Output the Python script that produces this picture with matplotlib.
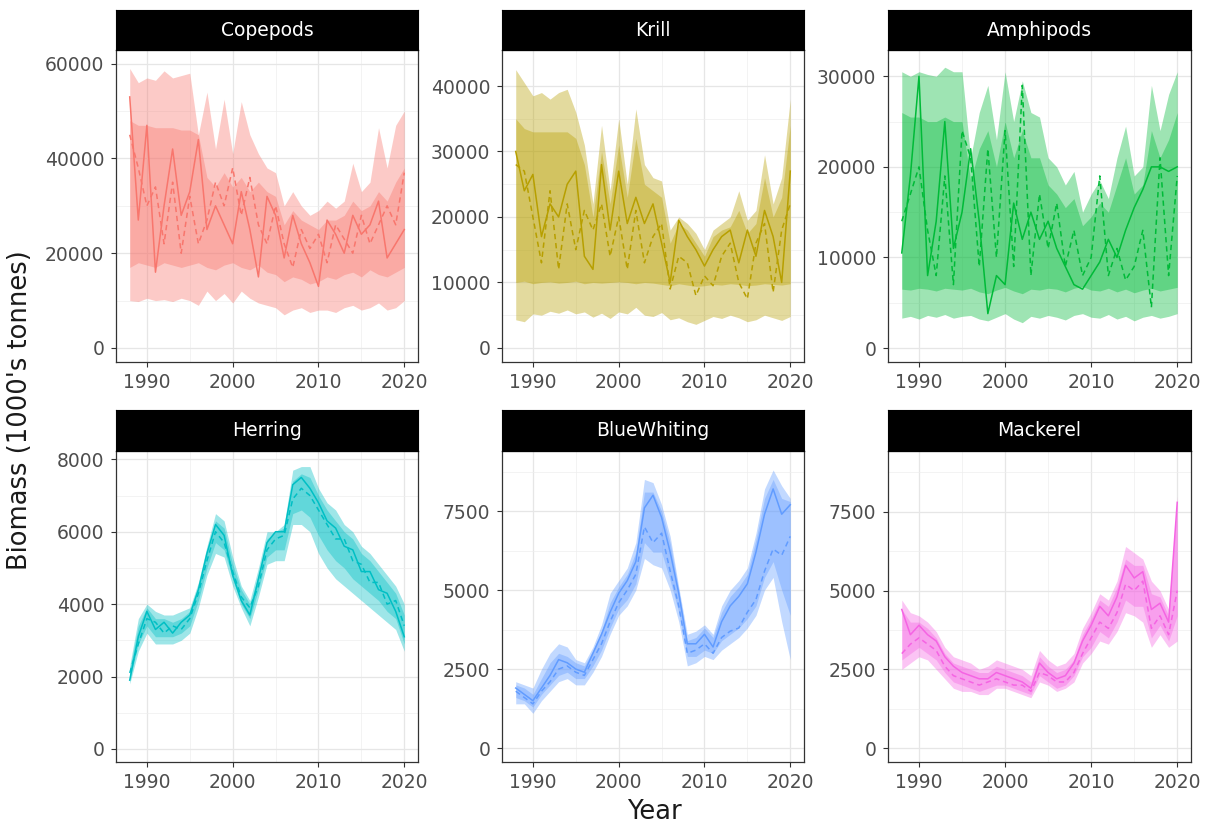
import matplotlib
matplotlib.use("Agg")
import matplotlib.pyplot as plt
from matplotlib.ticker import FixedLocator

plt.rcParams['font.family'] = ['DejaVu Sans']

years = list(range(1988, 2021))
species = ["Copepods", "Krill", "Amphipods", "Herring", "BlueWhiting", "Mackerel"]
colors = ["#F8766D", "#B79F00", "#00BA38", "#00BFC4", "#619CFF", "#F564E3"]

# ---- Copepods ----
copepods_solid = [53000, 27000, 47000, 16000, 30000, 42000, 28000, 33000, 44000, 25000, 30000,
                  26000, 22000, 33000, 25000, 15000, 32000, 28000, 19000, 28000, 22000, 18000,
                  13000, 27000, 24000, 20000, 28000, 24000, 26000, 31000, 19000, 22000, 25000]
copepods_dashed = [45000, 38000, 30000, 34000, 22000, 35000, 20000, 32000, 22000, 27000, 35000,
                   30000, 38000, 28000, 36000, 26000, 22000, 30000, 22000, 17000, 25000, 21000,
                   24000, 18000, 26000, 23000, 20000, 28000, 22000, 26000, 30000, 26000, 37000]
copepods_outer_lo = [10000, 9800, 10500, 10000, 10200, 9800, 10500, 10000, 9000, 12000, 10000,
                     11500, 9500, 12000, 10500, 9500, 9000, 8500, 7000, 8000, 8500, 7500,
                     8000, 8000, 7500, 8500, 9000, 8000, 8500, 9500, 8000, 8500, 10000]
copepods_outer_hi = [59000, 56000, 57000, 56500, 58500, 57000, 57500, 58000, 45000, 54000, 42000,
                     52500, 41000, 52000, 45000, 41000, 38000, 37000, 30000, 33000, 30000, 28000,
                     29000, 31000, 29500, 31000, 39000, 33000, 35000, 46500, 38000, 47000, 50000]
copepods_inner_lo = [17000, 18000, 17500, 17000, 18000, 17500, 17000, 17500, 18000, 17000, 16500,
                     17500, 18000, 17000, 16500, 17500, 16000, 15500, 14000, 15000, 14500, 13500,
                     14000, 15000, 14500, 15500, 16000, 15000, 16500, 15500, 15000, 16000, 17000]
copepods_inner_hi = [48000, 47000, 47000, 46500, 46500, 46500, 46000, 46000, 45000, 36000, 34000,
                     37000, 34000, 36000, 33000, 35000, 33000, 32000, 26000, 29000, 27000, 26000,
                     25000, 27000, 27000, 28000, 31000, 29000, 30000, 33000, 31000, 35000, 38000]

# ---- Krill ----
krill_solid = [30000, 24000, 26500, 17000, 22000, 20000, 25000, 27000, 14000, 12000, 28000,
               18000, 27000, 19000, 23000, 19000, 22000, 16000, 10000, 19500, 17000, 15000,
               12500, 15000, 17000, 18000, 13000, 18000, 14000, 21000, 17000, 10000, 27000]
krill_dashed = [28000, 27000, 20000, 13000, 24000, 12000, 22000, 15000, 21000, 18000, 22000,
                14000, 20000, 12000, 21000, 13000, 17000, 19000, 9000, 14000, 13000, 8000,
                11000, 9500, 14000, 16000, 10000, 7500, 16000, 19000, 8500, 18000, 22000]
krill_outer_lo = [4300, 4000, 5200, 5000, 5600, 5300, 5800, 5200, 5500, 4700, 5300,
                  4500, 5500, 5200, 6200, 5000, 4800, 5400, 4300, 4600, 4000, 3600,
                  4200, 4800, 4500, 5000, 4600, 4000, 4300, 5000, 4600, 4200, 4800]
krill_outer_hi = [42500, 40500, 38500, 39000, 38000, 39000, 39500, 36000, 31000, 22000, 34000,
                  24000, 35000, 25000, 36500, 28000, 26000, 25500, 18000, 20000, 19000, 17500,
                  15000, 18000, 19000, 20000, 24000, 19500, 21000, 29500, 22000, 26000, 38000]
krill_inner_lo = [10000, 10200, 9800, 10000, 10100, 9900, 10000, 10200, 9800, 10000, 9900,
                  10000, 10100, 10000, 9800, 10000, 9900, 9700, 9500, 9800, 9600, 9400,
                  9500, 9700, 9600, 9800, 9700, 9500, 9600, 9800, 9700, 9600, 9800]
krill_inner_hi = [35000, 33500, 33000, 33000, 33000, 33000, 33000, 32000, 28000, 20000, 30000,
                  22000, 31000, 23000, 32000, 25000, 24000, 23000, 16000, 19000, 18000, 16000,
                  14000, 17000, 18000, 18500, 21000, 17500, 19000, 26000, 20000, 23000, 34000]

# ---- Amphipods ----
amphipods_solid = [10500, 19000, 30000, 8000, 14000, 25000, 11000, 15000, 22000, 14000, 3800,
                   8000, 7000, 16000, 12000, 15000, 12000, 14000, 11000, 9000, 7000, 6500,
                   8000, 9500, 12000, 10000, 13000, 15500, 17500, 20000, 20000, 19500, 20000]
amphipods_dashed = [14000, 17000, 20000, 13000, 8000, 19000, 7000, 24000, 21000, 9000, 22000,
                    10000, 24000, 9000, 29000, 8000, 17000, 11000, 16000, 9000, 13000, 8000,
                    10000, 19000, 8000, 11000, 7500, 9000, 13000, 4500, 21000, 8000, 19000]
amphipods_outer_lo = [3300, 3500, 3200, 3600, 3400, 3700, 3300, 3500, 3600, 3200, 3000,
                      3400, 3800, 3200, 2800, 3500, 3300, 3600, 3400, 3100, 3600, 3800,
                      3400, 3300, 3700, 3200, 3500, 3000, 3400, 3600, 3300, 3500, 3800]
amphipods_outer_hi = [30500, 30000, 30500, 30200, 30000, 31000, 30500, 30500, 21000, 26000, 29000,
                      23000, 30500, 25000, 29500, 26000, 25500, 21000, 20000, 18000, 19500, 15000,
                      17000, 18500, 16500, 21000, 24500, 19000, 20000, 29000, 24000, 28000, 30500]
amphipods_inner_lo = [6500, 6400, 6600, 6500, 6300, 6600, 6500, 6400, 6600, 6200, 6000,
                      6400, 6700, 6300, 6000, 6500, 6400, 6600, 6500, 6200, 6600, 6800,
                      6400, 6300, 6600, 6200, 6500, 6100, 6400, 6600, 6300, 6500, 6700]
amphipods_inner_hi = [26000, 25500, 25500, 25000, 25000, 25500, 25000, 25000, 18500, 22000, 24000,
                      20000, 25000, 21000, 24000, 21000, 21000, 18000, 17000, 15500, 16500, 13500,
                      14500, 16000, 15000, 18000, 21000, 17000, 18000, 24000, 21000, 23000, 26000]

# ---- Herring ----
herring_solid = [1900, 3100, 3800, 3300, 3500, 3200, 3500, 3700, 4400, 5400, 6200,
                 5900, 4800, 4100, 3700, 4700, 5700, 6000, 6000, 7300, 7500, 7200,
                 6800, 6300, 6100, 5600, 5500, 4900, 4900, 4400, 4300, 3800, 3100]
herring_dashed = [2100, 2900, 3600, 3500, 3200, 3400, 3300, 3600, 4300, 5200, 6000,
                  5700, 4900, 4200, 3900, 4500, 5500, 5800, 5900, 6900, 7200, 7000,
                  6600, 6200, 5800, 5800, 5200, 5100, 4600, 4600, 4000, 4100, 3400]
herring_outer_lo = [1800, 2700, 3200, 2900, 2900, 2900, 3000, 3200, 3900, 4800, 5400,
                    5300, 4500, 3900, 3400, 4200, 5100, 5200, 5200, 6200, 6200, 6000,
                    5400, 5000, 4700, 4500, 4300, 4100, 3900, 3700, 3500, 3300, 2700]
herring_outer_hi = [2300, 3600, 4000, 3800, 3700, 3700, 3800, 3900, 4600, 5600, 6500,
                    6300, 5300, 4500, 4100, 5000, 6000, 6000, 6200, 7700, 7800, 7800,
                    7200, 6800, 6600, 6200, 6000, 5600, 5400, 5100, 4800, 4500, 4000]
herring_inner_lo = [1900, 2900, 3400, 3100, 3100, 3100, 3200, 3400, 4100, 5000, 5700,
                    5500, 4700, 4000, 3600, 4400, 5300, 5500, 5500, 6500, 6600, 6400,
                    5900, 5500, 5200, 5000, 4700, 4500, 4300, 4100, 3800, 3600, 2900]
herring_inner_hi = [2200, 3400, 3900, 3600, 3600, 3500, 3600, 3800, 4500, 5500, 6300,
                    6100, 5100, 4400, 4000, 4800, 5800, 6000, 6100, 7400, 7600, 7500,
                    7000, 6600, 6300, 6000, 5800, 5400, 5200, 4900, 4600, 4300, 3700]

# ---- Blue whiting ----
bluewhiting_solid = [1900, 1700, 1500, 1900, 2300, 2800, 2700, 2500, 2400, 3000, 3600,
                     4300, 4900, 5300, 5900, 7600, 8000, 7300, 6200, 4900, 3300, 3300,
                     3600, 3200, 4000, 4500, 4800, 5200, 6200, 7400, 8200, 7400, 7700]
bluewhiting_dashed = [1800, 1600, 1400, 1800, 2100, 2500, 2600, 2400, 2300, 2800, 3300,
                      4000, 4600, 5000, 5500, 7000, 6500, 6800, 5600, 4500, 3000, 3100,
                      3300, 3000, 3500, 3700, 3800, 4300, 4700, 5600, 6300, 6100, 6700]
bluewhiting_outer_lo = [1400, 1400, 1100, 1500, 1800, 2100, 2200, 2000, 2000, 2400, 2900,
                        3600, 4200, 4500, 5000, 6000, 5800, 5700, 5000, 4000, 2600, 2700,
                        2900, 2800, 3100, 3300, 3500, 3800, 4200, 5000, 5400, 4000, 2800]
bluewhiting_outer_hi = [2100, 2000, 1900, 2500, 3000, 3300, 3200, 2800, 2700, 3200, 3900,
                        4900, 5300, 5700, 6500, 8500, 8400, 7700, 6700, 5100, 3600, 3700,
                        3900, 3600, 4500, 5000, 5300, 5700, 6800, 8200, 8800, 8300, 7900]
bluewhiting_inner_lo = [1600, 1500, 1300, 1700, 2000, 2300, 2400, 2200, 2200, 2600, 3100,
                        3800, 4400, 4700, 5200, 6500, 6200, 6200, 5300, 4300, 2900, 2900,
                        3100, 3000, 3400, 3600, 3800, 4100, 4500, 5400, 5900, 5000, 4200]
bluewhiting_inner_hi = [2000, 1900, 1700, 2200, 2700, 3000, 2900, 2700, 2600, 3100, 3700,
                        4600, 5100, 5500, 6200, 8100, 8100, 7500, 6500, 5000, 3400, 3500,
                        3800, 3500, 4300, 4800, 5100, 5500, 6600, 7900, 8500, 7900, 7800]

# ---- Mackerel ----
mackerel_solid = [4400, 3600, 3900, 3600, 3400, 2900, 2600, 2400, 2300, 2200, 2200,
                  2400, 2300, 2200, 2100, 1900, 2700, 2400, 2200, 2300, 2700, 3400,
                  3900, 4500, 4200, 4800, 5800, 5400, 5600, 4400, 4600, 4000, 7800]
mackerel_dashed = [3000, 3300, 3500, 3300, 3100, 2600, 2300, 2200, 2100, 2000, 2100,
                   2200, 2100, 2000, 2000, 1800, 2400, 2300, 2100, 2100, 2400, 3000,
                   3500, 4000, 3800, 4300, 5200, 5000, 5300, 3800, 4200, 3600, 5000]
mackerel_outer_lo = [2500, 2700, 2900, 2800, 2500, 2200, 1900, 1800, 1800, 1700, 1700,
                     1900, 1900, 1800, 1700, 1600, 2100, 2000, 1800, 1900, 2100, 2700,
                     3000, 3400, 3300, 3700, 4300, 4200, 4000, 3200, 3600, 3200, 3400]
mackerel_outer_hi = [4700, 4300, 4200, 4000, 3700, 3200, 2900, 2800, 2700, 2500, 2600,
                     2800, 2700, 2600, 2500, 2300, 3100, 2800, 2600, 2700, 3000, 3800,
                     4300, 4900, 4700, 5300, 6400, 6200, 6000, 5300, 5000, 4400, 8000]
mackerel_inner_lo = [2800, 3000, 3200, 3000, 2800, 2400, 2100, 2000, 1900, 1800, 1900,
                     2000, 2000, 1900, 1800, 1700, 2300, 2100, 1900, 2000, 2300, 2900,
                     3200, 3700, 3500, 4000, 4700, 4500, 4500, 3500, 3900, 3400, 4200]
mackerel_inner_hi = [4400, 4000, 4000, 3800, 3500, 3000, 2700, 2600, 2500, 2400, 2400,
                     2600, 2500, 2400, 2300, 2100, 2900, 2600, 2400, 2500, 2800, 3600,
                     4100, 4700, 4500, 5100, 6000, 5800, 5800, 4900, 4800, 4200, 7800]

x_ticks = [1990, 2000, 2010, 2020]
x_minor = [1995, 2005, 2015]
y_ticks = {
    "Copepods": ([0, 20000, 40000, 60000], [10000, 30000, 50000], (-2960, 62900)),
    "Krill": ([0, 10000, 20000, 30000, 40000], [5000, 15000, 25000, 35000], (-2150, 45500)),
    "Amphipods": ([0, 10000, 20000, 30000], [5000, 15000, 25000], (-1540, 32900)),
    "Herring": ([0, 2000, 4000, 6000, 8000], [1000, 3000, 5000, 7000], (-360, 8230)),
    "BlueWhiting": ([0, 2500, 5000, 7500], [1250, 3750, 6250, 8750], (-440, 9400)),
    "Mackerel": ([0, 2500, 5000, 7500], [1250, 3750, 6250, 8750], (-440, 9430)),
}

panels = {
    "Copepods": (copepods_solid, copepods_dashed, copepods_outer_lo, copepods_outer_hi,
                 copepods_inner_lo, copepods_inner_hi),
    "Krill": (krill_solid, krill_dashed, krill_outer_lo, krill_outer_hi,
              krill_inner_lo, krill_inner_hi),
    "Amphipods": (amphipods_solid, amphipods_dashed, amphipods_outer_lo, amphipods_outer_hi,
                  amphipods_inner_lo, amphipods_inner_hi),
    "Herring": (herring_solid, herring_dashed, herring_outer_lo, herring_outer_hi,
                herring_inner_lo, herring_inner_hi),
    "BlueWhiting": (bluewhiting_solid, bluewhiting_dashed, bluewhiting_outer_lo,
                    bluewhiting_outer_hi, bluewhiting_inner_lo, bluewhiting_inner_hi),
    "Mackerel": (mackerel_solid, mackerel_dashed, mackerel_outer_lo, mackerel_outer_hi,
                 mackerel_inner_lo, mackerel_inner_hi),
}

W, H = 1207, 826
fig = plt.figure(figsize=(W / 100, H / 100), dpi=100)

col_px = [(116, 418), (502, 804), (888, 1191)]
row_px = [((10, 50), (50, 362)), ((410, 451), (451, 762))]


def box(x0, x1, y0, y1):
    return [x0 / W, 1 - y1 / H, (x1 - x0) / W, (y1 - y0) / H]


for k, name in enumerate(species):
    r, c = divmod(k, 3)
    x0, x1 = col_px[c]
    (sy0, sy1), (py0, py1) = row_px[r]
    color = colors[k]
    solid, dashed, olo, ohi, ilo, ihi = panels[name]
    major, minor, ylim = y_ticks[name]

    ax = fig.add_axes(box(x0, x1, py0, py1))
    ax.set_facecolor("white")
    ax.fill_between(years, olo, ohi, color=color, alpha=0.38, linewidth=0, zorder=2)
    ax.fill_between(years, ilo, ihi, color=color, alpha=0.38, linewidth=0, zorder=3)
    ax.plot(years, dashed, color=color, lw=1.1, ls=(0, (3.5, 2.5)), zorder=4)
    ax.plot(years, solid, color=color, lw=1.1, zorder=5)

    ax.set_xlim(1986.4, 2021.6)
    ax.set_ylim(*ylim)
    ax.xaxis.set_major_locator(FixedLocator(x_ticks))
    ax.xaxis.set_minor_locator(FixedLocator(x_minor))
    ax.yaxis.set_major_locator(FixedLocator(major))
    ax.yaxis.set_minor_locator(FixedLocator(minor))
    ax.set_yticklabels([str(v) for v in major])
    ax.set_xticklabels([str(v) for v in x_ticks])
    ax.grid(which="major", color="#E6E6E6", lw=0.9, zorder=0)
    ax.grid(which="minor", color="#EEEEEE", lw=0.5, zorder=0)
    ax.set_axisbelow(True)
    ax.tick_params(which="major", length=3.5, width=0.8, color="#333333",
                   labelsize=13.5, labelcolor="#4D4D4D")
    ax.tick_params(axis="x", which="major", pad=4.5)
    ax.tick_params(axis="y", which="major", pad=5)
    ax.tick_params(which="minor", length=0)
    for sp in ax.spines.values():
        sp.set_color("#333333")
        sp.set_linewidth(0.9)

    sax = fig.add_axes(box(x0, x1, sy0, sy1))
    sax.set_facecolor("black")
    sax.set_xticks([])
    sax.set_yticks([])
    for sp in sax.spines.values():
        sp.set_color("black")
    sax.text(0.5, 0.5, name, color="white", fontsize=13.5,
             ha="center", va="center", transform=sax.transAxes)

fig.text(20 / W, 1 - 410 / H, "Biomass (1000's tonnes)", rotation=90,
         ha="center", va="center", fontsize=18.5, color="#1A1A1A")
fig.text(654 / W, 1 - 812 / H, "Year", ha="center", va="center",
         fontsize=18.5, color="#1A1A1A")

fig.savefig("out.png", dpi=100, facecolor="white")
